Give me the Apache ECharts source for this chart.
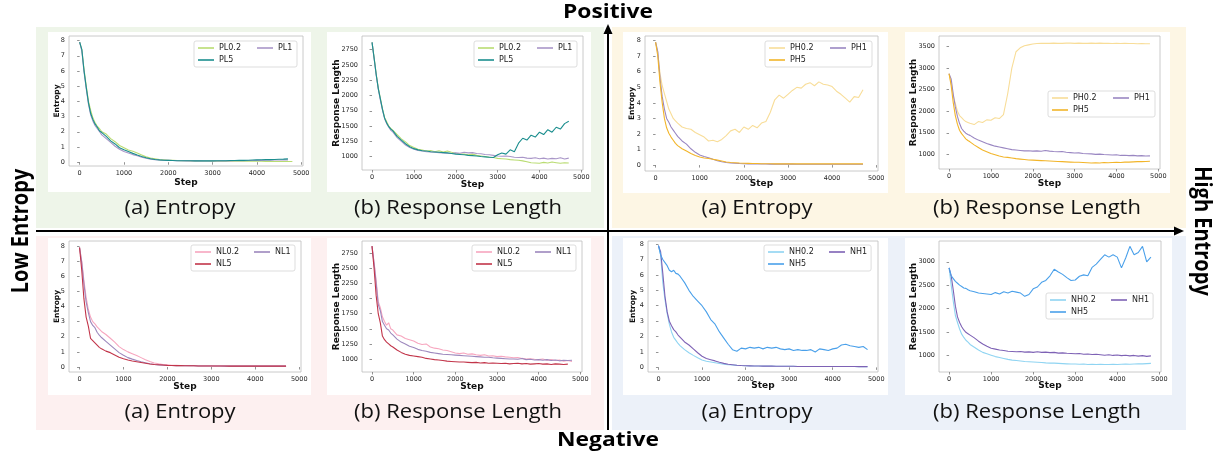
<!DOCTYPE html>
<html>
<head>
<meta charset="utf-8">
<script src="https://cdn.jsdelivr.net/npm/echarts@6/dist/echarts.min.js"></script>
<style>
html, body { margin: 0; padding: 0; background: #fff; }
#container { width: 1222px; height: 461px; }
</style>
</head>
<body>
<div id="container"></div>
<script>
// training steps shared by every curve
var steps = [0, 50, 100, 150, 200, 250, 300, 350, 400, 450, 500,
    600, 700, 800, 900, 1000, 1100, 1200, 1300, 1400, 1500,
    1600, 1700, 1800, 1900, 2000, 2100, 2200, 2300, 2400, 2500,
    2600, 2700, 2800, 2900, 3000, 3100, 3200, 3300, 3400, 3500,
    3600, 3700, 3800, 3900, 4000, 4100, 4200, 4300, 4400, 4500,
    4600, 4700, 4800];

var stepTicks = [0, 1000, 2000, 3000, 4000, 5000];
var entropyTicks = [0, 1, 2, 3, 4, 5, 6, 7, 8];
var lenTicksL = [1000, 1250, 1500, 1750, 2000, 2250, 2500, 2750];
var lenTicksPH = [1000, 1500, 2000, 2500, 3000, 3500];
var lenTicksNH = [1000, 1500, 2000, 2500, 3000];

var namesPL = ['PL0.2', 'PL1', 'PL5'];
var namesPH = ['PH0.2', 'PH1', 'PH5'];
var namesNL = ['NL0.2', 'NL1', 'NL5'];
var namesNH = ['NH0.2', 'NH1', 'NH5'];

var colorsPL = ['#b9dc72', '#a996c8', '#1b8e8e'];
var colorsPH = ['#f8dd98', '#9a87c2', '#f2b52a'];
var colorsNL = ['#f7a6bf', '#9d88bd', '#c2354a'];
var colorsNH = ['#8fd4f2', '#7e62b5', '#4aa0ea'];

// Positive / Low entropy
var entPL02 = [7.9, 7.4, 6.1, 5.0, 4.0, 3.4, 2.9, 2.6, 2.35, 2.2, 2.0,
    1.85, 1.55, 1.35, 1.1, 0.95, 0.8, 0.72, 0.6, 0.48, 0.35,
    0.27, 0.22, 0.17, 0.15, 0.13, 0.12, 0.11, 0.1, 0.1, 0.09,
    0.09, 0.08, 0.08, 0.08, 0.07, 0.07, 0.07, 0.07, 0.07, 0.07,
    0.06, 0.06, 0.06, 0.06, 0.06, 0.06, 0.05, 0.05, 0.05, 0.05,
    0.05, 0.05, 0.05];
var entPL1 = [7.9, 7.3, 5.9, 4.8, 3.8, 3.1, 2.7, 2.4, 2.2, 2.0, 1.8,
    1.55, 1.3, 1.05, 0.85, 0.7, 0.6, 0.5, 0.42, 0.33,
    0.26, 0.2, 0.17, 0.14, 0.13, 0.12, 0.11, 0.1, 0.1, 0.09,
    0.09, 0.09, 0.09, 0.08, 0.08, 0.08, 0.08, 0.09, 0.09, 0.09,
    0.1, 0.1, 0.1, 0.11, 0.11, 0.12, 0.12, 0.13, 0.13, 0.14,
    0.14, 0.15, 0.15];
var entPL5 = [7.9, 7.4, 6.0, 4.9, 3.9, 3.2, 2.8, 2.5, 2.3, 2.05, 1.95,
    1.7, 1.4, 1.2, 0.95, 0.82, 0.7, 0.58, 0.47, 0.37,
    0.29, 0.23, 0.18, 0.15, 0.13, 0.12, 0.11, 0.1, 0.1, 0.1,
    0.1, 0.09, 0.09, 0.09, 0.09, 0.09, 0.1, 0.1, 0.1, 0.11,
    0.11, 0.12, 0.12, 0.13, 0.14, 0.15, 0.16, 0.17, 0.17, 0.18,
    0.19, 0.2, 0.22];
var lenPL02 = [2870, 2620, 2350, 2120, 1950, 1780, 1640, 1570, 1500, 1460, 1430,
    1360, 1290, 1240, 1180, 1150, 1120, 1105, 1090, 1100,
    1080, 1095, 1075, 1090, 1070, 1055, 1045, 1040, 1030, 1040,
    1020, 1010, 1000, 990, 985, 970, 965, 960, 950, 945,
    940, 930, 915, 900, 895, 890, 905, 895, 910, 900,
    890, 900, 895];
var lenPL1 = [2870, 2600, 2330, 2100, 1920, 1760, 1620, 1540, 1480, 1430, 1400,
    1310, 1250, 1190, 1150, 1120, 1100, 1090, 1080, 1075,
    1070, 1065, 1060, 1055, 1050, 1060, 1055, 1070, 1060, 1065,
    1050, 1045, 1035, 1030, 1020, 1010, 1005, 1010, 1000, 990,
    985, 990, 975, 970, 980, 965, 975, 960, 970, 965,
    980, 960, 975];
var lenPL5 = [2870, 2610, 2340, 2110, 1940, 1770, 1630, 1550, 1490, 1450, 1420,
    1330, 1270, 1210, 1160, 1130, 1110, 1095, 1090, 1080,
    1075, 1070, 1065, 1060, 1050, 1040, 1035, 1030, 1020, 1015,
    1010, 1000, 995, 990, 985, 1030, 1060, 1040, 1110, 1080,
    1220, 1300, 1270, 1350, 1320, 1400, 1360, 1440, 1400, 1480,
    1450, 1540, 1580];

// Positive / High entropy
var entPH02 = [7.9, 7.2, 5.9, 5.1, 4.6, 4.1, 3.6, 3.3, 3.0, 2.85, 2.7,
    2.45, 2.35, 2.3, 2.1, 1.95, 1.8, 1.55, 1.6, 1.5,
    1.65, 1.9, 2.2, 2.3, 2.1, 2.45, 2.3, 2.55, 2.4, 2.7,
    2.8, 3.4, 4.2, 4.5, 4.3, 4.55, 4.8, 5.0, 4.95, 5.2,
    5.3, 5.1, 5.35, 5.2, 5.15, 5.05, 4.75, 4.55, 4.3, 4.05,
    4.4, 4.35, 4.85];
var entPH1 = [7.9, 7.3, 5.6, 4.4, 3.6, 3.0, 2.75, 2.45, 2.25, 2.05, 1.85,
    1.55, 1.35, 1.05, 0.82, 0.65, 0.55, 0.47, 0.37, 0.28,
    0.22, 0.17, 0.14, 0.12, 0.1, 0.09, 0.08, 0.08, 0.07, 0.07,
    0.07, 0.06, 0.06, 0.06, 0.06, 0.06, 0.06, 0.05, 0.05, 0.05,
    0.05, 0.05, 0.05, 0.05, 0.05, 0.05, 0.05, 0.05, 0.05, 0.05,
    0.05, 0.05, 0.05];
var entPH5 = [7.9, 7.0, 5.3, 4.0, 3.0, 2.4, 2.05, 1.8, 1.6, 1.4, 1.25,
    1.05, 0.9, 0.75, 0.62, 0.52, 0.46, 0.42, 0.38, 0.32,
    0.26, 0.2, 0.17, 0.15, 0.13, 0.12, 0.11, 0.1, 0.1, 0.09,
    0.09, 0.09, 0.08, 0.08, 0.08, 0.08, 0.08, 0.08, 0.08, 0.08,
    0.08, 0.08, 0.08, 0.08, 0.09, 0.08, 0.08, 0.09, 0.08, 0.08,
    0.08, 0.08, 0.08];
var lenPH02 = [2870, 2650, 2350, 2180, 2000, 1900, 1850, 1800, 1760, 1740, 1720,
    1690, 1760, 1740, 1800, 1790, 1850, 1830, 1920, 2400, 3000,
    3380, 3470, 3520, 3540, 3560, 3570, 3575, 3575, 3575, 3580,
    3575, 3575, 3580, 3580, 3575, 3580, 3575, 3575, 3580, 3575,
    3580, 3575, 3575, 3570, 3575, 3570, 3575, 3570, 3570, 3565,
    3570, 3565, 3565];
var lenPH1 = [2870, 2750, 2400, 2100, 1880, 1720, 1600, 1540, 1490, 1460, 1440,
    1380, 1330, 1290, 1250, 1220, 1190, 1170, 1150, 1130, 1110,
    1100, 1090, 1080, 1085, 1075, 1080, 1070, 1090, 1075, 1065,
    1060, 1065, 1050, 1040, 1030, 1035, 1020, 1015, 1010, 1000,
    1005, 995, 990, 985, 990, 975, 980, 970, 975, 965,
    970, 960, 965];
var lenPH5 = [2870, 2600, 2200, 1900, 1700, 1560, 1480, 1420, 1360, 1320, 1290,
    1220, 1160, 1100, 1060, 1020, 990, 960, 940, 930, 915,
    900, 890, 880, 870, 865, 860, 855, 850, 845, 840,
    835, 830, 825, 820, 815, 815, 810, 805, 800, 805,
    800, 810, 805, 810, 815, 810, 820, 820, 825, 830,
    830, 835, 840];

// Negative / Low entropy
var entNL02 = [7.9, 7.0, 5.7, 4.6, 3.8, 3.3, 3.0, 2.85, 2.65, 2.5, 2.35,
    2.15, 1.9, 1.65, 1.35, 1.15, 1.0, 0.88, 0.76, 0.62,
    0.48, 0.36, 0.27, 0.21, 0.16, 0.14, 0.12, 0.11, 0.1, 0.1,
    0.09, 0.09, 0.08, 0.08, 0.08, 0.08, 0.07, 0.07, 0.07, 0.07,
    0.07, 0.07, 0.07, 0.07, 0.07, 0.06, 0.06, 0.06, 0.06, 0.06,
    0.06, 0.06, 0.06];
var entNL1 = [7.9, 6.9, 5.5, 4.3, 3.6, 3.0, 2.75, 2.6, 2.3, 2.1, 1.95,
    1.7, 1.45, 1.2, 0.95, 0.78, 0.62, 0.52, 0.43, 0.35,
    0.28, 0.22, 0.17, 0.14, 0.12, 0.1, 0.1, 0.09, 0.09, 0.08,
    0.08, 0.08, 0.07, 0.07, 0.07, 0.07, 0.07, 0.07, 0.06, 0.06,
    0.06, 0.06, 0.06, 0.06, 0.06, 0.06, 0.06, 0.06, 0.06, 0.06,
    0.06, 0.06, 0.06];
var entNL5 = [7.9, 6.4, 4.5, 3.3, 2.7, 1.9, 1.75, 1.6, 1.45, 1.3, 1.2,
    1.05, 0.95, 0.8, 0.65, 0.55, 0.46, 0.4, 0.35, 0.3,
    0.25, 0.2, 0.17, 0.15, 0.13, 0.11, 0.1, 0.09, 0.09, 0.08,
    0.08, 0.08, 0.07, 0.07, 0.07, 0.07, 0.07, 0.07, 0.07, 0.06,
    0.06, 0.06, 0.06, 0.06, 0.06, 0.06, 0.06, 0.06, 0.06, 0.06,
    0.06, 0.06, 0.06];
var lenNL02 = [2870, 2600, 2300, 1950, 1850, 1700, 1620, 1560, 1600, 1500, 1480,
    1400, 1380, 1340, 1320, 1300, 1260, 1240, 1250, 1200, 1180,
    1170, 1150, 1140, 1120, 1100, 1090, 1100, 1080, 1085, 1070,
    1060, 1070, 1050, 1055, 1040, 1045, 1035, 1030, 1020, 1025,
    1010, 1000, 1005, 995, 990, 1000, 980, 990, 975, 985,
    965, 975, 960];
var lenNL1 = [2870, 2580, 2250, 1900, 1800, 1620, 1560, 1500, 1480, 1430, 1400,
    1330, 1280, 1250, 1210, 1190, 1160, 1140, 1130, 1110, 1100,
    1090, 1080, 1075, 1070, 1065, 1060, 1055, 1050, 1045, 1040,
    1035, 1030, 1030, 1020, 1015, 1010, 1005, 1000, 1000, 995,
    1010, 990, 995, 985, 990, 980, 990, 975, 985, 970,
    980, 975, 980];
var lenNL5 = [2870, 2500, 2050, 1750, 1600, 1380, 1320, 1280, 1250, 1220, 1200,
    1150, 1110, 1080, 1060, 1050, 1040, 1030, 1010, 1000,
    990, 985, 975, 965, 960, 955, 950, 950, 945, 940,
    945, 935, 940, 930, 935, 930, 925, 930, 920, 925,
    930, 920, 925, 915, 920, 925, 915, 920, 910, 920,
    915, 910, 915];

// Negative / High entropy
var entNH02 = [7.9, 7.3, 5.5, 4.4, 3.5, 2.8, 2.3, 1.95, 1.75, 1.55, 1.4,
    1.15, 0.95, 0.78, 0.62, 0.48, 0.4, 0.35, 0.3, 0.25, 0.2,
    0.17, 0.15, 0.13, 0.12, 0.11, 0.1, 0.09, 0.09, 0.08, 0.08,
    0.08, 0.07, 0.07, 0.07, 0.07, 0.07, 0.06, 0.06, 0.06, 0.06,
    0.06, 0.06, 0.06, 0.06, 0.06, 0.06, 0.06, 0.06, 0.06, 0.06,
    0.05, 0.05, 0.05];
var entNH1 = [7.9, 7.5, 6.1, 4.6, 3.6, 3.0, 2.7, 2.45, 2.3, 2.1, 1.95,
    1.65, 1.45, 1.2, 0.95, 0.72, 0.58, 0.5, 0.42, 0.33, 0.26,
    0.2, 0.17, 0.14, 0.12, 0.11, 0.1, 0.09, 0.09, 0.08, 0.08,
    0.08, 0.07, 0.07, 0.07, 0.07, 0.07, 0.06, 0.06, 0.06, 0.06,
    0.06, 0.06, 0.06, 0.06, 0.06, 0.06, 0.06, 0.06, 0.06, 0.06,
    0.05, 0.05, 0.05];
var entNH5 = [7.9, 7.3, 7.0, 6.8, 6.6, 6.3, 6.2, 6.3, 6.1, 6.05, 5.9,
    5.5, 5.0, 4.6, 4.3, 4.0, 3.6, 3.1, 2.8, 2.3, 1.9,
    1.5, 1.15, 1.05, 1.25, 1.2, 1.3, 1.25, 1.3, 1.2, 1.3,
    1.25, 1.3, 1.2, 1.15, 1.2, 1.1, 1.15, 1.1, 1.1, 1.15,
    1.0, 1.2, 1.15, 1.1, 1.2, 1.25, 1.45, 1.5, 1.4, 1.35,
    1.3, 1.35, 1.15];
var lenNH02 = [2870, 2500, 2150, 1850, 1700, 1560, 1450, 1380, 1320, 1280, 1230,
    1170, 1110, 1060, 1030, 1000, 970, 950, 930, 910, 895,
    885, 875, 865, 860, 855, 850, 845, 835, 830, 830,
    825, 820, 815, 810, 810, 805, 810, 800, 805, 800,
    805, 800, 800, 805, 800, 805, 810, 805, 810, 815,
    815, 820, 825];
var lenNH1 = [2870, 2700, 2390, 2050, 1820, 1700, 1610, 1540, 1490, 1460, 1430,
    1370, 1300, 1240, 1190, 1150, 1130, 1110, 1100, 1085, 1080,
    1075, 1080, 1065, 1070, 1060, 1075, 1060, 1065, 1055, 1060,
    1045, 1050, 1040, 1035, 1030, 1035, 1020, 1025, 1015, 1020,
    1010, 1000, 1010, 995, 1005, 990, 1000, 985, 995, 980,
    990, 975, 985];
var lenNH5 = [2870, 2700, 2640, 2580, 2540, 2500, 2470, 2440, 2430, 2400, 2380,
    2360, 2330, 2320, 2310, 2300, 2340, 2310, 2360, 2330, 2370,
    2350, 2330, 2260, 2300, 2420, 2460, 2560, 2600, 2700, 2840,
    2780, 2730, 2660, 2600, 2610, 2690, 2720, 2700, 2880, 2950,
    3050, 3150, 3100, 3150, 3100, 2870, 3080, 3330, 3150, 3200,
    3330, 3000, 3100];

// layout of the eight small plots
var panels = [
    { box: [69, 36, 234, 130], y: [-0.25, 8.3], ticks: entropyTicks, yName: 'Entropy', nameSize: 7.5, yGap: 8, xGap: 12,
      names: namesPL, colors: colorsPL, data: [entPL02, entPL1, entPL5], legend: [194, 41], w: [36, 15] },
    { box: [362, 36, 221, 134], y: [780, 2975], ticks: lenTicksL, yName: 'Response Length', nameSize: 9, yGap: 21, xGap: 10,
      names: namesPL, colors: colorsPL, data: [lenPL02, lenPL1, lenPL5], legend: [474, 41], w: [36, 15] },
    { box: [645, 36, 233, 135], y: [-0.38, 8.3], ticks: entropyTicks, yName: 'Entropy', nameSize: 7.5, yGap: 9, xGap: 8,
      names: namesPH, colors: colorsPH, data: [entPH02, entPH1, entPH5], legend: [765, 41], w: [38, 17] },
    { box: [939, 36, 221, 133], y: [660, 3745], ticks: lenTicksPH, yName: 'Response Length', nameSize: 9, yGap: 21, xGap: 10,
      names: namesPH, colors: colorsPH, data: [lenPH02, lenPH1, lenPH5], legend: [1048, 91], w: [38, 17] },
    { box: [69, 241, 232, 131], y: [-0.33, 8.33], ticks: entropyTicks, yName: 'Entropy', nameSize: 7.5, yGap: 8, xGap: 10,
      names: namesNL, colors: colorsNL, data: [entNL02, entNL1, entNL5], legend: [191, 245], w: [36, 16] },
    { box: [362, 241, 220, 131], y: [785, 2955], ticks: lenTicksL, yName: 'Response Length', nameSize: 9, yGap: 21, xGap: 10,
      names: namesNL, colors: colorsNL, data: [lenNL02, lenNL1, lenNL5], legend: [472, 245], w: [36, 16] },
    { box: [648, 241, 230, 131], y: [-0.3, 8.2], ticks: entropyTicks, yName: 'Entropy', nameSize: 7.5, yGap: 11, xGap: 9,
      names: namesNH, colors: colorsNH, data: [entNH02, entNH1, entNH5], legend: [764, 245], w: [38, 17] },
    { box: [939, 241, 222, 131], y: [640, 3445], ticks: lenTicksNH, yName: 'Response Length', nameSize: 9, yGap: 21, xGap: 9,
      names: namesNH, colors: colorsNH, data: [lenNH02, lenNH1, lenNH5], legend: [1046, 293], w: [38, 17] }
];

var quadrants = [
    { rect: [36, 27, 568, 201], fill: '#eef5e9' },
    { rect: [612, 27, 574, 201], fill: '#fdf6e4' },
    { rect: [36, 236, 568, 194], fill: '#fdf0f0' },
    { rect: [612, 236, 574, 194], fill: '#ecf1f9' }
];
var whitePanels = [
    [48, 32, 263, 160], [327, 32, 264, 160], [623, 32, 265, 161], [905, 32, 265, 161],
    [48, 238, 263, 157], [327, 238, 264, 157], [623, 238, 265, 157], [905, 238, 267, 157]
];
var captions = [
    ['(a) Entropy', 180, 208], ['(b) Response Length', 458, 208],
    ['(a) Entropy', 757, 208], ['(b) Response Length', 1037, 208],
    ['(a) Entropy', 180, 412], ['(b) Response Length', 458, 412],
    ['(a) Entropy', 757, 412], ['(b) Response Length', 1037, 412]
];

var dom = document.getElementById('container');
var myChart = echarts.init(dom, null, { renderer: 'canvas' });

var grids = [], xAxes = [], yAxes = [], series = [], legends = [];
var tickFont = { fontFamily: 'DejaVu Sans', fontSize: 6.5, color: '#262626' };
function plain(v) { return String(v); }

panels.forEach(function (p, i) {
    grids.push({
        left: p.box[0], top: p.box[1], width: p.box[2], height: p.box[3],
        show: true, backgroundColor: '#fff', borderColor: '#bcbcbc', borderWidth: 0.8,
        containLabel: false, outerBoundsMode: 'none'
    });
    xAxes.push({
        gridIndex: i, type: 'value', min: -240, max: 5040,
        name: 'Step', nameLocation: 'middle', nameGap: p.xGap, nameMoveOverlap: false,
        nameTextStyle: { fontFamily: 'DejaVu Sans', fontWeight: 'bold', fontSize: 9, color: '#111' },
        axisLine: { show: false },
        axisTick: { show: true, length: 2.5, lineStyle: { color: '#666', width: 0.7 }, customValues: stepTicks },
        axisLabel: Object.assign({ margin: 4, customValues: stepTicks, formatter: plain }, tickFont),
        splitLine: { show: false }
    });
    yAxes.push({
        gridIndex: i, type: 'value', min: p.y[0], max: p.y[1],
        name: p.yName, nameLocation: 'middle', nameGap: p.yGap, nameMoveOverlap: false,
        nameTextStyle: { fontFamily: 'DejaVu Sans', fontWeight: 'bold', fontSize: p.nameSize, color: '#111' },
        axisLine: { show: false },
        axisTick: { show: true, length: 2.5, lineStyle: { color: '#666', width: 0.7 }, customValues: p.ticks },
        axisLabel: Object.assign({ margin: 4, customValues: p.ticks, formatter: plain }, tickFont),
        splitLine: { show: false }
    });
    // draw order: 0.2, 1, 5 (5 on top)
    p.names.forEach(function (name, k) {
        series.push({
            type: 'line', name: name, xAxisIndex: i, yAxisIndex: i,
            data: steps.map(function (s, j) { return [s, p.data[k][j]]; }),
            showSymbol: false, symbol: 'none', silent: true,
            color: p.colors[k],
            lineStyle: { width: 1.1, color: p.colors[k] },
            itemStyle: { color: p.colors[k] }
        });
    });
    var rowW = 16 + 5 + p.w[0] + 2 + 16 + 5 + p.w[1];
    legends.push({
        left: p.legend[0], top: p.legend[1], width: rowW + 2,
        orient: 'horizontal', padding: [2, 4, 2, 4], itemGap: 2,
        itemWidth: 16, itemHeight: 1.6, icon: 'rect', selectedMode: false,
        backgroundColor: 'rgba(255,255,255,0.9)', borderColor: '#d4d4d4', borderWidth: 0.8, borderRadius: 2,
        textStyle: { fontFamily: 'DejaVu Sans', fontSize: 8, color: '#222', lineHeight: 10 },
        itemStyle: { borderWidth: 0 },
        data: [
            { name: p.names[0], textStyle: { width: p.w[0] } },
            { name: p.names[1], textStyle: { width: p.w[1] } },
            { name: p.names[2], textStyle: { width: p.w[0] } }
        ]
    });
});

var graphics = [];
quadrants.forEach(function (q) {
    graphics.push({ type: 'rect', z: -10, silent: true,
        shape: { x: q.rect[0], y: q.rect[1], width: q.rect[2], height: q.rect[3] },
        style: { fill: q.fill } });
});
whitePanels.forEach(function (r) {
    graphics.push({ type: 'rect', z: -9, silent: true,
        shape: { x: r[0], y: r[1], width: r[2], height: r[3] },
        style: { fill: '#ffffff' } });
});
captions.forEach(function (c) {
    graphics.push({ type: 'text', z: 10, x: c[1], y: c[2], scaleX: 1.1, silent: true,
        style: { text: c[0], fontFamily: 'Open Sans', fontSize: 20, fill: '#111',
            align: 'center', verticalAlign: 'middle' } });
});
// axes arrows
graphics.push({ type: 'line', z: 10, silent: true, shape: { x1: 36, y1: 231, x2: 1176, y2: 231 },
    style: { stroke: '#000', lineWidth: 2 } });
graphics.push({ type: 'polygon', z: 10, silent: true, shape: { points: [[1184, 231], [1174, 226.5], [1174, 235.5]] },
    style: { fill: '#000' } });
graphics.push({ type: 'line', z: 10, silent: true, shape: { x1: 608, y1: 430, x2: 608, y2: 32 },
    style: { stroke: '#000', lineWidth: 2 } });
graphics.push({ type: 'polygon', z: 10, silent: true, shape: { points: [[608, 24], [603.5, 34], [612.5, 34]] },
    style: { fill: '#000' } });

var bigFont = { fontFamily: 'Open Sans', fontWeight: 'bold', fontSize: 19, fill: '#000', align: 'center', verticalAlign: 'middle' };
graphics.push({ type: 'text', z: 10, x: 608, y: 13, scaleX: 1.2, silent: true, style: Object.assign({ text: 'Positive' }, bigFont) });
graphics.push({ type: 'text', z: 10, x: 608, y: 441, scaleX: 1.2, silent: true, style: Object.assign({ text: 'Negative' }, bigFont) });
graphics.push({ type: 'text', z: 10, x: 21, y: 231, rotation: Math.PI / 2, scaleY: 1.15, silent: true,
    style: Object.assign({ text: 'Low Entropy' }, bigFont, { fontSize: 20 }) });
graphics.push({ type: 'text', z: 10, x: 1202, y: 231, rotation: -Math.PI / 2, scaleY: 1.15, silent: true,
    style: Object.assign({ text: 'High Entropy' }, bigFont, { fontSize: 20 }) });

myChart.setOption({
    animation: false,
    backgroundColor: '#fff',
    textStyle: { fontFamily: 'DejaVu Sans' },
    grid: grids,
    xAxis: xAxes,
    yAxis: yAxes,
    legend: legends,
    series: series,
    graphic: graphics
});

window.addEventListener('resize', function () {
    myChart.resize();
});
</script>
</body>
</html>
